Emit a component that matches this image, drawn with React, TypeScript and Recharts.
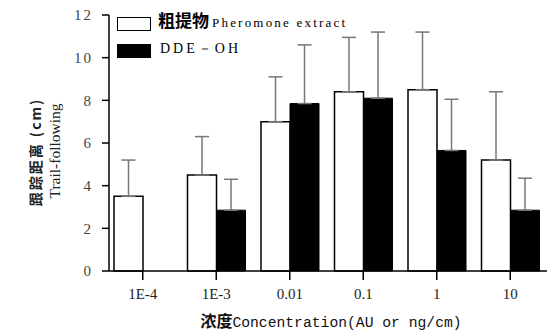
import React from "react";
import { BarChart, Bar, XAxis, YAxis, ErrorBar } from "recharts";

const categories = ["1E-4", "1E-3", "0.01", "0.1", "1", "10"];
const extract = [3.5, 4.5, 7.0, 8.4, 8.5, 5.2];
const extractErr = [1.7, 1.8, 2.1, 2.55, 2.7, 3.2];
const dde = [null, 2.85, 7.85, 8.1, 5.65, 2.85];
const ddeErr = [null, 1.45, 2.75, 3.1, 2.4, 1.5];
const yTicks = [0, 2, 4, 6, 8, 10, 12];

const data = categories.map((c, i) => ({
  name: c,
  extract: extract[i],
  extractErr: [0, extractErr[i]],
  dde: dde[i],
  ddeErr: ddeErr[i] == null ? null : [0, ddeErr[i]],
}));

const serif = "'Liberation Serif', 'Times New Roman', serif";
const cjk = "'Noto Sans CJK SC', sans-serif";

function LegendBox() {
  const box = (fill: string, top: number) => ({
    position: "absolute" as const,
    left: 117,
    top,
    width: 32,
    height: 12,
    border: "1px solid #000",
    background: fill,
  });
  return (
    <div style={{ position: "absolute", left: 0, top: 0, color: "#000" }}>
      <span style={box("#fff", 17)} />
      <span style={box("#000", 44)} />
      <div style={{ position: "absolute", left: 158, top: 10, whiteSpace: "nowrap", lineHeight: "20px" }}>
        <span style={{ fontFamily: cjk, fontWeight: 700, fontSize: 17 }}>粗提物</span>
        <span style={{ fontFamily: serif, fontSize: 13, letterSpacing: 2.2, marginLeft: 3 }}>
          Pheromone extract
        </span>
      </div>
      <div
        style={{
          position: "absolute",
          left: 160,
          top: 39,
          whiteSpace: "nowrap",
          lineHeight: "20px",
          fontFamily: serif,
          fontSize: 14,
          letterSpacing: 3,
        }}
      >
        DDE－OH
      </div>
    </div>
  );
}

function YLabel() {
  return (
    <g>
      <text
        x={35}
        y={152}
        transform="rotate(-90 35 152)"
        textAnchor="middle"
        dominantBaseline="central"
        style={{ fontFamily: cjk, fontSize: 14, fontWeight: 700, fill: "#222", letterSpacing: 2 }}
      >
        跟踪距离 (cm)
      </text>
      <text
        x={54}
        y={151}
        transform="rotate(-90 54 151)"
        textAnchor="middle"
        dominantBaseline="central"
        style={{ fontFamily: serif, fontSize: 15.5, fill: "#222" }}
      >
        Trail-following
      </text>
    </g>
  );
}

function XLabel() {
  return (
    <text x={331} y={327} textAnchor="middle" style={{ fill: "#111" }}>
      <tspan style={{ fontFamily: cjk, fontSize: 16, fontWeight: 700 }}>浓度</tspan>
      <tspan style={{ fontFamily: "'Liberation Mono', monospace", fontSize: 14.7 }}>
        Concentration(AU or ng/cm)
      </tspan>
    </text>
  );
}

export default function App() {
  return (
    <div
      style={{
        position: "absolute",
        left: 0,
        top: 0,
        width: 557,
        height: 333,
        background: "#fff",
        fontFamily: serif,
      }}
    >
      <BarChart
        width={557}
        height={333}
        data={data}
        margin={{ top: 15, right: 10, left: 0, bottom: 0 }}
        barSize={29}
        barGap={0}
      >
        <XAxis
          dataKey="name"
          height={62}
          padding={{ left: -3, right: 0 }}
          axisLine={{ stroke: "#000", strokeWidth: 1.5 }}
          tickLine={{ stroke: "#000", strokeWidth: 1.5 }}
          tickSize={9}
          tickMargin={8}
          tick={{ fontFamily: serif, fontSize: 15, fill: "#222" }}
          label={<XLabel />}
        />
        <YAxis
          width={109}
          domain={[0, 12]}
          ticks={yTicks}
          interval={0}
          axisLine={{ stroke: "#000", strokeWidth: 1.5 }}
          tickLine={{ stroke: "#000", strokeWidth: 1.5 }}
          tickSize={7}
          tickMargin={9}
          tick={{ fontFamily: serif, fontSize: 15, fill: "#444", letterSpacing: 2 }}
          label={<YLabel />}
        />
        <Bar dataKey="extract" fill="#fff" stroke="#000" strokeWidth={1.5} isAnimationActive={false}>
          <ErrorBar dataKey="extractErr" direction="y" width={7} stroke="#777" strokeWidth={1.5} isAnimationActive={false} />
        </Bar>
        <Bar dataKey="dde" fill="#000" stroke="#000" strokeWidth={1} isAnimationActive={false}>
          <ErrorBar dataKey="ddeErr" direction="y" width={7} stroke="#777" strokeWidth={1.5} isAnimationActive={false} />
        </Bar>
      </BarChart>
      <LegendBox />
    </div>
  );
}
